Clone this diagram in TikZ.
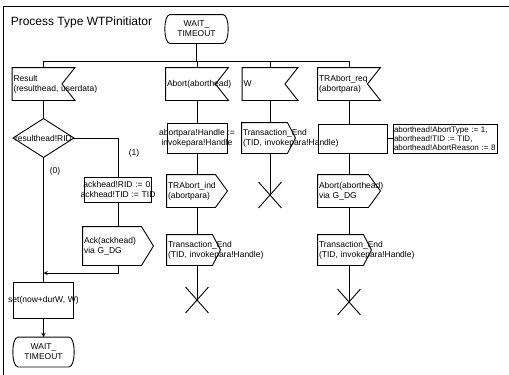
\documentclass[tikz,border=0pt]{standalone}
\usepackage{fontspec}
\setmainfont{Liberation Sans}

\newcommand\wide[1]{\makebox[\linewidth]{#1}}

\tikzset{
  sdl/.style={font=\fontsize{8.5}{10}\selectfont, inner sep=1pt},
  inputsym/.style 2 args={sdl, text width=#1pt-2pt, minimum height=#2, align=left,
    append after command={\pgfextra{\draw (\tikzlastnode.north west) -- (\tikzlastnode.north east)
      -- ([xshift=-13pt]\tikzlastnode.east) -- (\tikzlastnode.south east)
      -- (\tikzlastnode.south west) -- cycle;}}},
  outputsym/.style n args={3}{sdl, text width=#1pt-2pt, minimum height=#2, align=left,
    append after command={\pgfextra{\draw (\tikzlastnode.north west) -- ([xshift=-#3pt]\tikzlastnode.north east)
      -- (\tikzlastnode.east) -- ([xshift=-#3pt]\tikzlastnode.south east)
      -- (\tikzlastnode.south west) -- cycle;}}},
  tasksym/.style 2 args={sdl, draw, text width=#1pt-2pt, minimum height=#2, align=center},
  statesym/.style 2 args={sdl, text width=#1pt-2pt, minimum height=#2, align=center,
    append after command={\pgfextra{\draw ([xshift=5pt]\tikzlastnode.north west) -- ([xshift=-5pt]\tikzlastnode.north east)
      .. controls ([xshift=2pt]\tikzlastnode.north east) and ([xshift=2pt]\tikzlastnode.south east) .. ([xshift=-5pt]\tikzlastnode.south east)
      -- ([xshift=5pt]\tikzlastnode.south west)
      .. controls ([xshift=-2pt]\tikzlastnode.south west) and ([xshift=-2pt]\tikzlastnode.north west) .. ([xshift=5pt]\tikzlastnode.north west) -- cycle;}}},
  decisionsym/.style 2 args={sdl, inner sep=0pt, minimum width=#1, minimum height=#2,
    append after command={\pgfextra{\draw (\tikzlastnode.north) -- (\tikzlastnode.east)
      -- (\tikzlastnode.south) -- (\tikzlastnode.west) -- cycle;}}},
  stopsym/.style={inner sep=0pt, minimum width=22, minimum height=25,
    append after command={\pgfextra{\draw (\tikzlastnode.north west) -- (\tikzlastnode.south east)
      (\tikzlastnode.north east) -- (\tikzlastnode.south west);}}},
  branch/.style={sdl, inner sep=0pt}
}

\begin{document}
\begin{tikzpicture}[x=1pt, y=-1pt, line width=0.9pt, >=stealth]
\useasboundingbox (0,0) rectangle (509,375);

% frame and heading
\draw (3,375) -- (3,6) -- (509,6);
\node[anchor=west, font=\fontsize{12}{14}\selectfont] (title) at (7,22) {Process Type WTPinitiator};

% start state
\node[statesym={62}{28}] (wait0) at (196.5,29) {WAIT\_\\TIMEOUT};
\coordinate (bus) at (0,61);

% inputs
\node[inputsym={62}{32}] (result) at (43.5,84) {Result\\\mbox{(resulthead, userdata)}};
\node[inputsym={62}{32}] (abort) at (197,84) {\mbox{Abort(aborthead)}};
\node[inputsym={55}{32}] (w) at (270,84) {W};
\node[inputsym={62}{32}] (trreq) at (349,84) {TRAbort\_req\\(abortpara)};

% result branch
\node[decisionsym={60}{38}] (rid) at (43.5,138) {resulthead!RID};
\node[branch] (lab1) at (134,153) {(1)};
\node[branch] (lab0) at (55,171) {(0)};
\node[tasksym={67}{25}] (ackset) at (118,189.5) {\wide{ackhead!RID := 0,}\\\wide{ackhead!TID := TID}};
\node[outputsym={70}{38}{12}] (ackout) at (118,246) {Ack(ackhead)\\via G\_DG};
\coordinate (merge) at (43.5,273);
\node[tasksym={60}{36}] (setw) at (43.5,300) {\wide{set(now+durW, W)}};
\node[statesym={60}{29}] (wait1) at (43.5,352) {WAIT\_\\TIMEOUT};

% abort branch
\node[tasksym={60}{30}] (abset) at (197,138) {\wide{abortpara!Handle :=}\\\wide{invokepara!Handle}};
\node[outputsym={60}{32}{12}] (trind) at (197,191) {TRAbort\_ind\\(abortpara)};
\node[outputsym={53}{30}{8}] (tend2) at (193.5,250) {\mbox{Transaction\_End}\\\mbox{(TID, invokepara!Handle)}};
\node[stopsym] (stop2) at (197,300) {};

% timer branch
\node[outputsym={53}{30}{8}] (tend3) at (268.5,138) {\mbox{Transaction\_End}\\\mbox{(TID, invokepara!Handle)}};
\node[stopsym] (stop3) at (270,195) {};

% abort request branch
\node[tasksym={69}{29}] (aset4) at (352.5,138.5) {};
\node[sdl, draw, font=\fontsize{8}{9}\selectfont, text width=102pt, minimum height=29, align=left] (ext) at (445,138.5)
  {aborthead!AbortType := 1,\\aborthead!TID := TID,\\aborthead!AbortReason := 8};
\node[outputsym={62}{32}{12}] (abortout) at (349,191) {\mbox{Abort(aborthead)}\\via G\_DG};
\node[outputsym={53}{30}{8}] (tend4) at (344.5,250) {\mbox{Transaction\_End}\\\mbox{(TID, invokepara!Handle)}};
\node[stopsym] (stop4) at (349,302) {};

% connectors
\draw (wait0.south) -- (wait0.south |- bus);
\draw (result.north) -- (result.north |- bus) -- (trreq.north |- bus) -- (trreq.north);
\draw (abort.north) -- (abort.north |- bus);
\draw (w.north) -- (w.north |- bus);

\draw (result) -- (rid);
\draw (rid.east) -| (ackset.north);
\draw (ackset) -- (ackout.north -| ackset.south);
\draw (rid.south) -- (setw.north);
\draw[->] (ackout.south -| ackset.south) |- (merge);
\draw[->] (setw) -- (wait1);

\draw (abort) -- (abset);
\draw (abset) -- (trind);
\draw (trind.south) -- (trind.south |- tend2.north);
\draw (stop2.center |- tend2.south) -- (stop2.center);

\draw (w.south) -- (w.south |- tend3.north);
\draw (stop3.center |- tend3.south) -- (stop3.center);

\draw (trreq.south) -- (trreq.south |- aset4.north);
\draw (aset4.east) -- (ext.west);
\draw (abortout.north |- aset4.south) -- (abortout.north);
\draw (abortout.south) -- (abortout.south |- tend4.north);
\draw (stop4.center |- tend4.south) -- (stop4.center);
\end{tikzpicture}
\end{document}
